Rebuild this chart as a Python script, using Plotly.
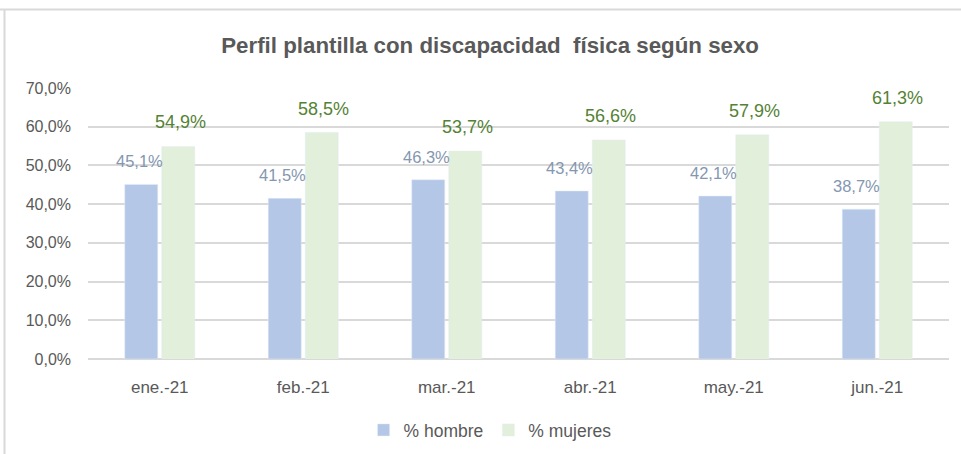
import plotly.graph_objects as go

categories = ["ene.-21", "feb.-21", "mar.-21", "abr.-21", "may.-21", "jun.-21"]
hombre = [45.1, 41.5, 46.3, 43.4, 42.1, 38.7]
mujeres = [54.9, 58.5, 53.7, 56.6, 57.9, 61.3]
y_ticks = [0, 10, 20, 30, 40, 50, 60, 70]
y_ticklabels = ["0,0%", "10,0%", "20,0%", "30,0%", "40,0%", "50,0%", "60,0%", "70,0%"]

def fmt(v):
    return f"{v:.1f}%".replace(".", ",")

FONT = "Liberation Sans"
W, H = 961, 454
ML, MR, MT, MB = 88, 12, 88, 95
PW, PH = W - ML - MR, H - MT - MB

fig = go.Figure()
fig.add_trace(go.Bar(x=categories, y=hombre, name="% hombre", marker_color="#b4c7e7"))
fig.add_trace(go.Bar(x=categories, y=mujeres, name="% mujeres", marker_color="#e2efda"))

annotations = []
for c, h, m in zip(categories, hombre, mujeres):
    annotations.append(dict(x=c, y=h, xref="x", yref="y", text=fmt(h), showarrow=False,
                            xshift=-20.5, yshift=12, yanchor="bottom",
                            font=dict(family=FONT, size=16.5, color="#8497b0")))
    annotations.append(dict(x=c, y=m, xref="x", yref="y", text=fmt(m), showarrow=False,
                            xshift=20.5, yshift=12, yanchor="bottom",
                            font=dict(family=FONT, size=18, color="#548235")))

fig.update_layout(
    width=W, height=H,
    margin=dict(l=ML, r=MR, t=MT, b=MB, autoexpand=False),
    paper_bgcolor="white", plot_bgcolor="white",
    barmode="group", bargap=0.484, bargroupgap=0.108,
    title=dict(text="<b>Perfil plantilla con discapacidad \u00a0física según sexo</b>",
               x=0.51, xanchor="center", y=1 - 45 / H, yanchor="middle",
               font=dict(family=FONT, size=22.3, color="#595959")),
    font=dict(family=FONT, size=16, color="#595959"),
    xaxis=dict(showgrid=False, showline=False, ticks="", tickfont=dict(size=17, color="#595959"),
               ticklabelstandoff=16, automargin=False),
    yaxis=dict(range=[0, 70], tickvals=y_ticks, ticktext=y_ticklabels, showgrid=True,
               gridcolor="#d9d9d9", gridwidth=1.5, zeroline=True, zerolinecolor="#d9d9d9",
               zerolinewidth=1.5, showline=False, ticks="", ticklabelstandoff=16,
               automargin=False, tickfont=dict(size=16, color="#595959")),
    legend=dict(orientation="h", x=0.467, xanchor="center", y=-(430 - (H - MB)) / PH,
                yanchor="middle",
                font=dict(size=17.5, color="#595959"), traceorder="normal",
                itemwidth=30),
    annotations=annotations,
    shapes=[
        dict(type="line", xref="paper", yref="paper", x0=-ML / PW, x1=1 + MR / PW,
             y0=(H - 9.5 - MB) / PH, y1=(H - 9.5 - MB) / PH,
             line=dict(color="#d9d9d9", width=2)),
        dict(type="line", xref="paper", yref="paper", x0=-(ML - 4.5) / PW, x1=-(ML - 4.5) / PW,
             y0=(H - 9.5 - MB) / PH, y1=-MB / PH,
             line=dict(color="#d9d9d9", width=2)),
    ],
)
fig.write_html("out.html", config={"displayModeBar": False},
               post_script="document.body.style.margin='0';document.body.style.overflow='hidden';")
